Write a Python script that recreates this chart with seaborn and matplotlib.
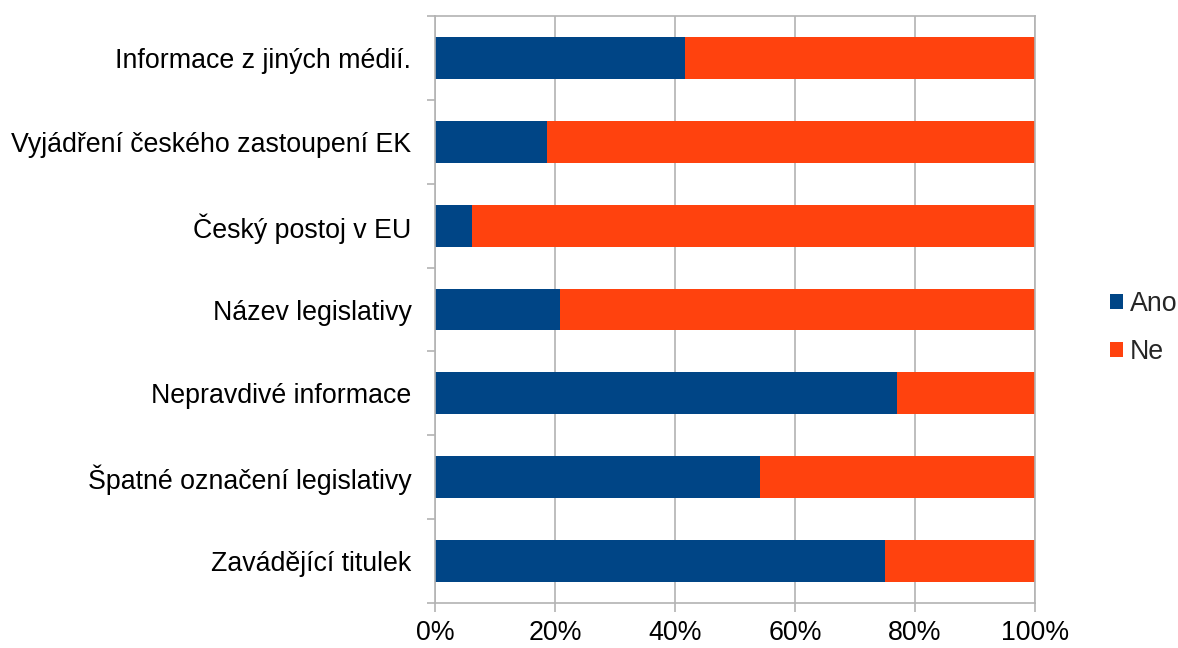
import matplotlib
matplotlib.use("Agg")
import matplotlib.pyplot as plt
import seaborn as sns
import pandas as pd
import numpy as np
from matplotlib.patches import Patch
from matplotlib.ticker import FixedLocator, FuncFormatter

sns.set_theme(style="white")
plt.rcParams['font.family'] = ['Liberation Sans', 'DejaVu Sans']

categories = [
    "Informace z jiných médií.",
    "Vyjádření českého zastoupení EK",
    "Český postoj v EU",
    "Název legislativy",
    "Nepravdivé informace",
    "Špatné označení legislativy",
    "Zavádějící titulek",
]
ano = [41.7, 18.7, 6.1, 20.8, 77.0, 54.1, 75.0]
ne = [58.3, 81.3, 93.9, 79.2, 23.0, 45.9, 25.0]
series_labels = ["Ano", "Ne"]
xticks = [0, 20, 40, 60, 80, 100]

blue = "#004586"
orange = "#ff420e"
grid = "#b3b3b3"
FS = 19.3

df = pd.DataFrame({"cat": categories, "ano": ano, "ne": ne})
df["total"] = df["ano"] + df["ne"]

fig = plt.figure(figsize=(11.78, 6.48), dpi=100)
ax = fig.add_axes([435/1178, 45/648, 600/1178, 587/648])

sns.barplot(data=df, y="cat", x="total", color=orange, width=0.5,
            saturation=1, ax=ax, edgecolor="none", orient="h")
sns.barplot(data=df, y="cat", x="ano", color=blue, width=0.5,
            saturation=1, ax=ax, edgecolor="none", orient="h")

ax.set_xlim(0, 100)
ax.set_ylim(len(categories) - 0.5, -0.5)
ax.set_xlabel("")
ax.set_ylabel("")
ax.xaxis.set_major_locator(FixedLocator(xticks))
ax.xaxis.set_major_formatter(FuncFormatter(lambda v, p: f"{int(v)}%"))
ax.grid(axis="x", color=grid, linewidth=1.2)
ax.set_axisbelow(True)
for s in ax.spines.values():
    s.set_color(grid)
    s.set_linewidth(1.2)

ax.yaxis.set_minor_locator(FixedLocator(np.arange(-0.5, len(categories), 1.0)))
ax.tick_params(axis="y", which="major", length=0, pad=17, labelsize=FS, labelcolor="black")
ax.tick_params(axis="y", which="minor", length=6, width=1.2, color=grid, left=True)
ax.tick_params(axis="x", which="major", length=6.5, width=1.2, color=grid, bottom=True,
               pad=6, labelsize=FS, labelcolor="black")

handles = [Patch(facecolor=blue, edgecolor="none"), Patch(facecolor=orange, edgecolor="none")]
fig.legend(handles, series_labels, loc="center left", bbox_to_anchor=(1110/1178, 1 - 328/648),
           frameon=False, fontsize=FS, handlelength=0.5, handleheight=0.5,
           handletextpad=0.25, labelspacing=0.8, borderpad=0, borderaxespad=0)

fig.savefig("out.png", dpi=100, facecolor="white")
